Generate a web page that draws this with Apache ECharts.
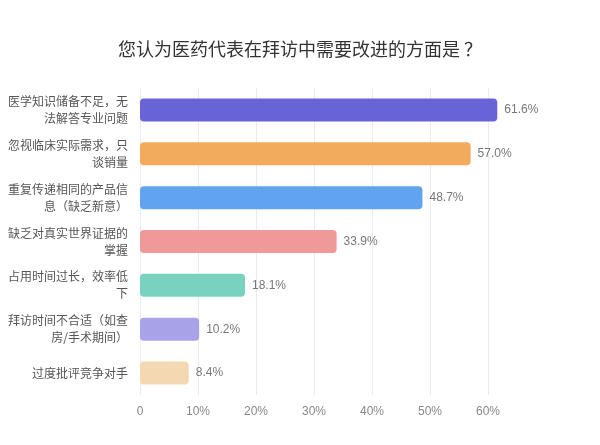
<!DOCTYPE html>
<html>
<head>
<meta charset="utf-8">
<script src="https://cdn.jsdelivr.net/npm/echarts@6/dist/echarts.min.js"></script>
<style>
  html, body { margin: 0; padding: 0; background: #fff; }
  #chart { width: 600px; height: 445px; }
</style>
</head>
<body>
<div id="chart"></div>
<script>
// 数据
const titleText = "您认为医药代表在拜访中需要改进的方面是 ？";
const categories = [
    "医学知识储备不足，无\n法解答专业问题",
    "忽视临床实际需求，只\n谈销量",
    "重复传递相同的产品信\n息（缺乏新意）",
    "缺乏对真实世界证据的\n掌握",
    "占用时间过长，效率低\n下",
    "拜访时间不合适（如查\n房/手术期间）",
    "过度批评竞争对手"
];
const values = [61.6, 57.0, 48.7, 33.9, 18.1, 10.2, 8.4];
const barColors = ["#6864d8", "#f2aa5c", "#62a3ef", "#ef9998", "#79d2c0", "#a8a2e8", "#f4d8b2"];

const chart = echarts.init(document.getElementById("chart"));

const option = {
    backgroundColor: "#fff",
    title: {
        text: titleText,
        left: "center",
        top: 35,
        textStyle: { fontSize: 18, fontWeight: "normal", color: "#333", fontFamily: "Noto Sans CJK SC" }
    },
    grid: { left: 140, right: 54, top: 88, bottom: 50 },
    xAxis: {
        type: "value",
        min: 0,
        max: 70,
        interval: 10,
        axisLine: { show: false },
        axisTick: { show: false },
        axisLabel: {
            showMaxLabel: false,
            formatter: v => v === 0 ? "0" : v + "%",
            color: "#888",
            fontSize: 12,
            margin: 11,
            fontFamily: "Liberation Sans"
        },
        splitLine: { showMaxLine: false, lineStyle: { color: "#ebebeb" } }
    },
    yAxis: {
        type: "category",
        inverse: true,
        data: categories,
        axisLine: { show: false },
        axisTick: { show: false },
        axisLabel: {
            color: "#555",
            fontSize: 12,
            lineHeight: 17,
            margin: 12,
            align: "right",
            fontFamily: "Noto Sans CJK SC"
        }
    },
    series: [{
        type: "bar",
        data: values.map((v, i) => ({ value: v, itemStyle: { color: barColors[i] } })),
        barWidth: 23,
        itemStyle: { borderRadius: 4 },
        label: {
            show: true,
            position: "right",
            distance: 7,
            formatter: p => p.value.toFixed(1) + "%",
            color: "#777",
            fontSize: 12,
            fontFamily: "Liberation Sans"
        }
    }]
};

chart.setOption(option);
</script>
</body>
</html>
